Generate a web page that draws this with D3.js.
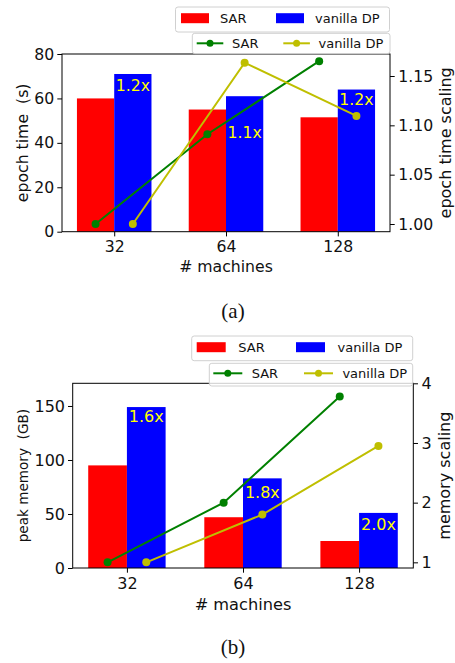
<!DOCTYPE html>
<html>
<head>
<meta charset="utf-8">
<script src="https://cdn.jsdelivr.net/npm/d3@7"></script>
<style>
body { margin: 0; background: #fff; }
svg text { font-family: "DejaVu Sans", sans-serif; fill: #111; }
</style>
</head>
<body>
<script>
'use strict';

// data
const machines = ['32', '64', '128']
const seriesNames = ['SAR', 'vanilla DP']

const epochSAR = [60, 55, 51.5]
const epochVanilla = [71, 61, 64]
const epochScaleSAR = [1.00, 1.091, 1.165]
const epochScaleVanilla = [1.00, 1.1635, 1.1095]
const epochRatio = ['1.2x', '1.1x', '1.2x']
const epochRatioAt = [66, 44.6, 59.4]
const epochTicks = [0, 20, 40, 60, 80]
const epochScaleTicks = [1.00, 1.05, 1.10, 1.15]

const memSAR = [95, 47, 25]
const memVanilla = [149, 83, 51]
const memScaleSAR = [1, 2.0, 3.78]
const memScaleVanilla = [1, 1.8, 2.95]
const memRatio = ['1.6x', '1.8x', '2.0x']
const memRatioAt = [140.7, 69.7, 40.5]
const memTicks = [0, 50, 100, 150]
const memScaleTicks = [1, 2, 3, 4]

const BAR_COLORS = ['red', 'blue']
const LINE_COLORS = ['#008000', '#bfbf00']
const BW = 1 / 3

const svg = d3.select('body').append('svg')
  .attr('width', 455).attr('height', 663)

const legend = (g, b, kind) => {
  g.append('rect')
    .attr('x', b.x).attr('y', b.y).attr('width', b.w).attr('height', b.h).attr('rx', 2.5)
    .attr('fill', 'white').attr('fill-opacity', 0.8).attr('stroke', '#d0d0d0')
  const cy = b.y + b.cy
  seriesNames.forEach((name, k) => {
    const hx = b.x + b.pad + k * b.col
    if (kind === 'patch') {
      g.append('rect').attr('x', hx).attr('y', cy - 5).attr('width', b.hl).attr('height', 10)
        .attr('fill', BAR_COLORS[k])
    } else {
      g.append('line').attr('x1', hx).attr('x2', hx + b.hl).attr('y1', cy).attr('y2', cy)
        .attr('stroke', LINE_COLORS[k]).attr('stroke-width', 2)
      g.append('circle').attr('cx', hx + b.hl / 2).attr('cy', cy).attr('r', 3.5)
        .attr('fill', LINE_COLORS[k])
    }
    g.append('text').attr('x', hx + b.tx).attr('y', cy).attr('dominant-baseline', 'central')
      .style('font-size', '13px').text(name)
  })
}

const drawPanel = p => {
  const g = svg.append('g')
  const x = d3.scaleLinear().domain([-0.467, 2.467]).range([p.left, p.right])
  const y = d3.scaleLinear().domain(p.yDomain).range([p.bottom, p.top])
  const y2 = d3.scaleLinear().domain(p.y2Domain).range([p.bottom, p.top])

  // bars
  ;[p.sar, p.vanilla].forEach((vals, k) => {
    g.append('g').selectAll('rect').data(vals).enter().append('rect')
      .attr('x', (d, i) => x(i + (k - 1) * BW))
      .attr('width', x(BW) - x(0))
      .attr('y', d => y(d))
      .attr('height', d => y(0) - y(d))
      .attr('fill', BAR_COLORS[k])
  })

  // ratio labels
  g.append('g').selectAll('text').data(p.ratio).enter().append('text')
    .attr('x', (d, i) => x(i + BW / 2))
    .attr('y', (d, i) => y(p.ratioAt[i]))
    .attr('text-anchor', 'middle').attr('dominant-baseline', 'central')
    .style('font-size', p.fs + 'px').style('fill', '#ffff00')
    .text(d => d)

  // axes
  const xAxis = d3.axisBottom(x).tickValues([0, 1, 2]).tickFormat(i => machines[i])
    .tickSize(4.7).tickPadding(p.xPad)
  g.append('g').attr('transform', 'translate(0,' + p.bottom + ')').call(xAxis)
  const yAxis = d3.axisLeft(y).tickValues(p.yTicks).tickFormat(d3.format('d'))
    .tickSize(4.7).tickPadding(3)
  g.append('g').attr('transform', 'translate(' + p.left + ',0)').call(yAxis)
  const y2Axis = d3.axisRight(y2).tickValues(p.y2Ticks).tickFormat(d3.format(p.y2Fmt))
    .tickSize(4.7).tickPadding(3.5)
  g.append('g').attr('transform', 'translate(' + p.right + ',0)').call(y2Axis)
  g.selectAll('.domain').remove()
  g.selectAll('.tick line').attr('stroke', '#000').attr('stroke-width', 1)
  g.selectAll('.tick text').style('font-size', p.fs + 'px').style('font-family', '"DejaVu Sans", sans-serif').attr('fill', '#111')

  g.append('rect').attr('x', p.left).attr('y', p.top)
    .attr('width', p.right - p.left).attr('height', p.bottom - p.top)
    .attr('fill', 'none').attr('stroke', '#000').attr('stroke-width', 1)

  // scaling lines (twin axis)
  ;[p.scaleSAR, p.scaleVanilla].forEach((vals, k) => {
    const off = k === 0 ? -BW / 2 : BW / 2
    const line = d3.line().x((d, i) => x(i + off)).y(d => y2(d))
    g.append('path').attr('d', line(vals)).attr('fill', 'none')
      .attr('stroke', LINE_COLORS[k]).attr('stroke-width', 2)
    g.append('g').selectAll('circle').data(vals).enter().append('circle')
      .attr('cx', (d, i) => x(i + off)).attr('cy', d => y2(d)).attr('r', 4)
      .attr('fill', LINE_COLORS[k])
  })

  // axis titles
  g.append('text').attr('x', (p.left + p.right) / 2).attr('y', p.xLabelY)
    .attr('text-anchor', 'middle').style('font-size', p.xlfs + 'px').text('# machines')
  g.append('text').attr('transform', 'translate(' + p.yLabelX + ',' + (p.top + p.bottom) / 2 + ') rotate(-90)')
    .attr('text-anchor', 'middle').attr('dominant-baseline', 'central')
    .style('font-size', p.ylfs + 'px').style('white-space', 'pre').text(p.yLabel)
  g.append('text').attr('transform', 'translate(' + p.y2LabelX + ',' + (p.top + p.bottom) / 2 + ') rotate(-90)')
    .attr('text-anchor', 'middle').attr('dominant-baseline', 'central')
    .style('font-size', '16px').text(p.y2Label)

  legend(g, p.barLegend, 'patch')
  legend(g, p.lineLegend, 'line')

  g.append('text').attr('x', 233).attr('y', p.captionY).attr('text-anchor', 'middle')
    .style('font-family', '"Liberation Serif", serif').style('font-size', '21px').text(p.caption)
}

drawPanel({
  sar: epochSAR, vanilla: epochVanilla,
  scaleSAR: epochScaleSAR, scaleVanilla: epochScaleVanilla,
  ratio: epochRatio, ratioAt: epochRatioAt,
  yTicks: epochTicks, y2Ticks: epochScaleTicks, y2Fmt: '.2f',
  yDomain: [0, 80], y2Domain: [0.9922, 1.1723],
  left: 62, right: 390, top: 54, bottom: 231.7,
  fs: 15.7, xPad: 4.5, xlfs: 15.7, ylfs: 15.7,
  xLabelY: 272, yLabel: 'epoch time  (s)', yLabelX: 22.5,
  y2Label: 'epoch time scaling', y2LabelX: 445.5,
  barLegend: { x: 175.5, y: 7, w: 214, h: 25, cy: 11.2, pad: 5.5, col: 95, hl: 28, tx: 39 },
  lineLegend: { x: 192.3, y: 33.3, w: 197.7, h: 20.3, cy: 10, pad: 4.4, col: 86.6, hl: 26.6, tx: 35.3 },
  caption: '(a)', captionY: 318,
})

drawPanel({
  sar: memSAR, vanilla: memVanilla,
  scaleSAR: memScaleSAR, scaleVanilla: memScaleVanilla,
  ratio: memRatio, ratioAt: memRatioAt,
  yTicks: memTicks, y2Ticks: memScaleTicks, y2Fmt: 'd',
  yDomain: [0, 171], y2Domain: [0.905, 4.0],
  left: 72.7, right: 413.3, top: 383.3, bottom: 568,
  fs: 16, xPad: 4.5, xlfs: 16.2, ylfs: 13.6,
  xLabelY: 609.5, yLabel: 'peak memory  (GB)', yLabelX: 22.5,
  y2Label: 'memory scaling', y2LabelX: 444,
  barLegend: { x: 191.7, y: 336, w: 221, h: 24.7, cy: 11.2, pad: 5, col: 99.3, hl: 29, tx: 41.6 },
  lineLegend: { x: 209.3, y: 363.3, w: 203.4, h: 22.7, cy: 10, pad: 4, col: 90.7, hl: 29, tx: 38.4 },
  caption: '(b)', captionY: 654,
})
</script>
</body>
</html>
